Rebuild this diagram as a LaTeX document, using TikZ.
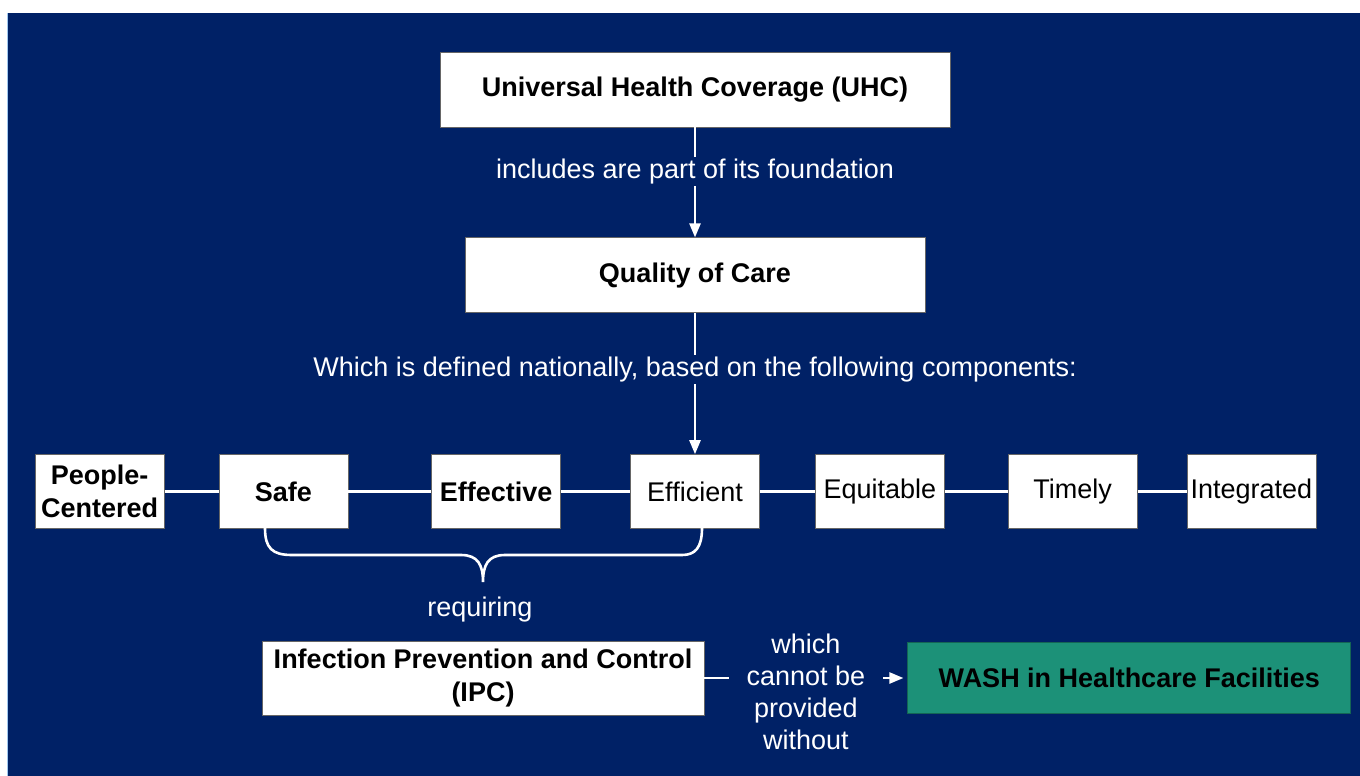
\documentclass[tikz,border=0pt]{standalone}
\usepackage{fontspec}
\setmainfont{Liberation Sans}
\usepackage{xcolor}
\usetikzlibrary{arrows.meta, positioning}

\definecolor{navybg}{RGB}{0,33,102}
\definecolor{washgreen}{RGB}{28,145,120}
\definecolor{edgeblue}{RGB}{160,200,240}

\begin{document}
\begin{tikzpicture}[x=0.5pt, y=-0.5pt,
        block/.style={rectangle, draw=black!60, fill=white, align=center, font=\fontsize{13.5}{16.5}\selectfont\bfseries, minimum width=64.5pt, minimum height=37pt, inner sep=1pt},
        plainblock/.style={block, font=\fontsize{13.5}{16.5}\selectfont},
        washblock/.style={block, draw=washgreen!70!black, fill=washgreen, minimum width=221.5pt, minimum height=35.5pt},
        note/.style={fill=navybg, text=white, align=center, font=\fontsize{13.5}{16}\selectfont, inner xsep=2pt, inner ysep=1pt},
        arrow/.style={-{Triangle[length=7pt, width=5.5pt]}, white, line width=1.2pt},
        link/.style={white, line width=1.3pt}]

        % Background
        \useasboundingbox (0,0) rectangle (1360,776);
        \fill[white] (0,0) rectangle (1360,776);
        \fill[navybg] (8,13) rectangle (1360,776);
        \draw[edgeblue, line width=0.6pt] (7.5,13) -- (7.5,776);

        % Nodes
        \node[block, minimum width=255pt, minimum height=37.5pt] (uhc) at (695,89.5) {Universal Health Coverage (UHC)};
        \node[block, minimum width=230pt, minimum height=37.5pt, below=55pt of uhc] (quality) {Quality of Care};

        % Components
        \node[plainblock, below=70.5pt of quality] (efficient) {Efficient};
        \node[block, left=34.5pt of efficient] (effective) {Effective};
        \node[block, left=41.5pt of effective] (safe) {Safe};
        \node[block, left=27pt of safe] (people) {People-\\Centered};
        \node[plainblock, right=27.5pt of efficient] (equitable) {Equitable};
        \node[plainblock, right=31.5pt of equitable] (timely) {Timely};
        \node[plainblock, right=24.5pt of timely, inner sep=0pt] (integrated) {Integrated};

        % Requirement
        \node[note] (requiring) at (480,610) {requiring};
        \node[block, minimum width=221pt, minimum height=37pt] (ipc) at (483,678) {Infection Prevention and Control\\(IPC)};
        \node[washblock, right=101.5pt of ipc] (wash) {WASH in Healthcare Facilities};

        % Brace
        \coordinate (braceL) at (265,528);
        \coordinate (braceR) at (702,528);
        \coordinate (braceTip) at (483,582);
        \draw[link] (braceL) .. controls (265,548) and (272,555) .. (292,555) -- (461,555)
            .. controls (478,555) and (483,565) .. (braceTip)
            .. controls (483,565) and (488,555) .. (505,555) -- (682,555)
            .. controls (695,555) and (702,548) .. (braceR);

        % Arrows
        \draw[arrow] (uhc) -- node[note, pos=0.4] {includes are part of its foundation} (quality);
        \draw[arrow] (quality) -- node[note, pos=0.4] {Which is defined nationally, based on the following components:} (efficient);
        \draw[arrow, shorten >=2pt] (ipc) -- node[note, inner xsep=9pt, yshift=-7pt] {which\\cannot be\\provided\\without} (wash);

        % Links
        \draw[link] (people) -- (safe);
        \draw[link] (safe) -- (effective);
        \draw[link] (effective) -- (efficient);
        \draw[link] (efficient) -- (equitable);
        \draw[link] (equitable) -- (timely);
        \draw[link] (timely) -- (integrated);

    \end{tikzpicture}
\end{document}
